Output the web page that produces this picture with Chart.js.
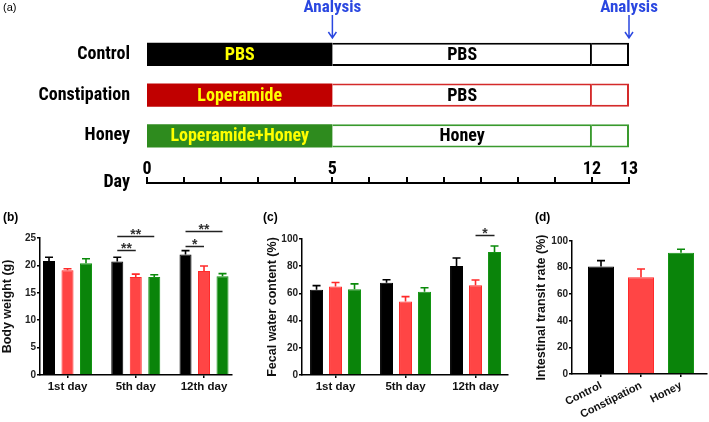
<!DOCTYPE html>
<html><head><meta charset="utf-8">
<script src="https://cdn.jsdelivr.net/npm/chart.js@4.4.1/dist/chart.umd.min.js"></script>
<style>
html,body{margin:0;padding:0;background:#fff;}
#wrap{position:relative;width:709px;height:422px;overflow:hidden;background:#fff;}
canvas{position:absolute;}
.lbl{position:absolute;font-family:'Liberation Sans',Arial,sans-serif;color:#000;white-space:nowrap;}
.narrow{font-family:'Liberation Sans Narrow','Arial Narrow','Roboto Condensed','Liberation Sans',sans-serif;font-weight:bold;}
</style></head><body>
<div id="wrap">
<canvas id="ca" width="709" height="184" style="left:0;top:0;width:709px;height:184px"></canvas>
<canvas id="cday" width="709" height="45" style="left:0;top:150px;width:709px;height:45px"></canvas>
<canvas id="cb" width="235" height="222" style="left:0;top:200px;width:235px;height:222px"></canvas>
<canvas id="cc" width="250" height="222" style="left:262px;top:200px;width:250px;height:222px"></canvas>
<canvas id="cd" width="177" height="222" style="left:532px;top:200px;width:177px;height:222px"></canvas>
<div class="lbl" style="left:3px;top:1px;font-size:11px;">(a)</div>
<div class="lbl narrow" style="left:30px;top:170px;width:100px;text-align:right;font-size:18px;line-height:22px;">Day</div>
<div class="lbl" style="left:3px;top:210px;font-size:12px;font-weight:bold;">(b)</div>
<div class="lbl" style="left:263px;top:210px;font-size:12px;font-weight:bold;">(c)</div>
<div class="lbl" style="left:535px;top:210px;font-size:12px;font-weight:bold;">(d)</div>
</div>
<script>
// ---------- DATA ----------
const groups = ['Control', 'Constipation', 'Honey'];
const phaseDays = [0, 5, 12, 13];
const phaseLabelsEarly = ['PBS', 'Loperamide', 'Loperamide+Honey'];
const phaseLabelsLate = ['PBS', 'PBS', 'Honey'];
const analysisDays = [5, 13];
const dayTickLabels = [0, 5, 12, 13];

const timeLabels = ['1st day', '5th day', '12th day'];
const bodyWeightControl = [20.8, 20.7, 22.0];
const bodyWeightConstipation = [19.1, 17.9, 19.0];
const bodyWeightHoney = [20.4, 17.9, 18.0];
const bodyWeightErrControl = [0.7, 0.8, 0.7];
const bodyWeightErrConstipation = [0.3, 0.5, 0.9];
const bodyWeightErrHoney = [0.8, 0.4, 0.5];
const bodyWeightSig = [
  {group: 1, from: 0, to: 1, level: 22.8, mark: '**'},
  {group: 1, from: 0, to: 2, level: 25.4, mark: '**'},
  {group: 2, from: 0, to: 1, level: 23.5, mark: '*'},
  {group: 2, from: 0, to: 2, level: 26.3, mark: '**'}
];

const fecalControl = [62.7, 67.9, 80.1];
const fecalConstipation = [65.0, 54.0, 66.0];
const fecalHoney = [63.0, 61.3, 90.4];
const fecalErrControl = [3.0, 2.1, 5.9];
const fecalErrConstipation = [3.0, 3.6, 3.9];
const fecalErrHoney = [4.0, 2.9, 4.4];
const fecalSig = [{group: 2, from: 1, to: 2, level: 103, mark: '*'}];

const transitLabels = ['Control', 'Constipation', 'Honey'];
const transitValues = [80.75, 72.75, 91.25];
const transitErr = [4.5, 6.25, 2.5];

// ---------- STYLE ----------
const NARROW = "'Liberation Sans Narrow','Arial Narrow','Roboto Condensed','Liberation Sans',sans-serif";
const SANS = "'Liberation Sans',Arial,sans-serif";
Chart.defaults.font.family = SANS;
Chart.defaults.animation = false;
const rowFill = ['#000000', '#c00000', '#2e8b1e'];
const rowBorder = ['#000000', '#d42a2a', '#3a9a2e'];
const barFill = ['#000000', '#ff4545', '#0a840a'];
const barBorder = ['#000000', '#ff2a2a', '#149414'];
const errColor = ['#000000', '#ff2a2a', '#0a8a0a'];

// ---------- PANEL (a) ----------
const segTextPlugin = {
  id: 'segText',
  afterDatasetsDraw(chart) {
    const ctx = chart.ctx;
    const texts = [phaseLabelsEarly, phaseLabelsLate, groups.map(() => '')];
    const colors = ['#ffff00', '#000000', '#000000'];
    ctx.save();
    ctx.font = 'bold 18px ' + NARROW;
    ctx.textAlign = 'center';
    ctx.textBaseline = 'middle';
    chart.data.datasets.forEach((ds, di) => {
      chart.getDatasetMeta(di).data.forEach((el, i) => {
        ctx.fillStyle = colors[di];
        ctx.fillText(texts[di][i], (el.x + el.base) / 2, el.y + 1);
      });
    });
    ctx.restore();
  },
  afterDraw(chart) {
    const ctx = chart.ctx, xs = chart.scales.x;
    ctx.save();
    ctx.strokeStyle = '#2a47e0';
    ctx.fillStyle = '#2a47e0';
    ctx.lineWidth = 1.5;
    ctx.font = 'bold 17px ' + NARROW;
    ctx.textAlign = 'center';
    ctx.textBaseline = 'middle';
    analysisDays.forEach(d => {
      const x = xs.getPixelForValue(d);
      ctx.fillText('Analysis', x, 8);
      ctx.beginPath();
      ctx.moveTo(x, 15); ctx.lineTo(x, 38);
      ctx.moveTo(x - 4, 32); ctx.lineTo(x, 38); ctx.lineTo(x + 4, 32);
      ctx.stroke();
    });
    ctx.restore();
  }
};

new Chart(document.getElementById('ca'), {
  type: 'bar',
  data: {
    labels: groups,
    datasets: [
      {data: groups.map(() => [phaseDays[0], phaseDays[1]]), backgroundColor: rowFill, borderWidth: 0},
      {data: groups.map(() => [phaseDays[1], phaseDays[2]]), backgroundColor: '#ffffff', borderColor: rowBorder, borderWidth: 2, borderSkipped: 'left'},
      {data: groups.map(() => [phaseDays[2], phaseDays[3]]), backgroundColor: '#ffffff', borderColor: rowBorder, borderWidth: 2, borderSkipped: 'left'}
    ]
  },
  options: {
    responsive: false, devicePixelRatio: 1, indexAxis: 'y',
    layout: {padding: {top: 34, bottom: 4, left: 0, right: 80}},
    datasets: {bar: {grouped: false, categoryPercentage: 1, barPercentage: 0.57}},
    plugins: {legend: {display: false}, tooltip: {enabled: false}},
    scales: {
      x: {type: 'linear', min: phaseDays[0], max: phaseDays[3], display: false},
      y: {
        type: 'category', offset: true,
        grid: {display: false, drawTicks: false}, border: {display: false},
        ticks: {font: {family: NARROW, size: 18, weight: 'bold'}, color: '#000', padding: 17},
        afterFit: s => { s.width = 147; }
      }
    }
  },
  plugins: [segTextPlugin]
});

new Chart(document.getElementById('cday'), {
  type: 'line',
  data: {datasets: []},
  options: {
    responsive: false, devicePixelRatio: 1,
    layout: {padding: {top: 0, bottom: 0, left: 147, right: 80}},
    plugins: {legend: {display: false}, tooltip: {enabled: false}},
    scales: {
      x: {
        type: 'linear', position: 'top', min: phaseDays[0], max: phaseDays[3],
        grid: {drawOnChartArea: false, drawTicks: true, tickLength: 6, lineWidth: 2, color: '#000'},
        border: {display: true, width: 2, color: '#000'},
        ticks: {stepSize: 1, autoSkip: false, maxRotation: 0, padding: -3, color: '#000',
          font: {family: NARROW, size: 18, weight: 'bold'},
          callback: v => dayTickLabels.includes(v) ? String(v) : ''},
        afterFit: s => { s.height = 33; }
      },
      y: {display: false, min: 0, max: 1}
    }
  }
});

// ---------- PANELS (b)(c)(d) ----------
function errorPlugin(cap) {
  return {
    id: 'errBars',
    afterDatasetsDraw(chart) {
      const ctx = chart.ctx, ys = chart.scales.y;
      chart.data.datasets.forEach((ds, di) => {
        chart.getDatasetMeta(di).data.forEach((bar, i) => {
          const v = ds.data[i].y;
          const e = ds.errors[i];
          const base = ys.getPixelForValue(v), top = ys.getPixelForValue(v + e);
          ctx.save();
          ctx.strokeStyle = Array.isArray(ds.errColor) ? ds.errColor[i] : ds.errColor;
          ctx.lineWidth = 1.6;
          ctx.beginPath();
          ctx.moveTo(bar.x, base); ctx.lineTo(bar.x, top);
          ctx.moveTo(bar.x - cap / 2, top); ctx.lineTo(bar.x + cap / 2, top);
          ctx.stroke();
          ctx.restore();
        });
      });
    }
  };
}
function sigPlugin(items) {
  return {
    id: 'sigMarks',
    afterDatasetsDraw(chart) {
      const ctx = chart.ctx, ys = chart.scales.y;
      items.forEach(it => {
        const xa = chart.getDatasetMeta(it.from).data[it.group].x;
        const xb = chart.getDatasetMeta(it.to).data[it.group].x;
        const y = Math.round(ys.getPixelForValue(it.level)) + 0.5;
        ctx.save();
        ctx.strokeStyle = '#222'; ctx.lineWidth = 1.5;
        ctx.beginPath(); ctx.moveTo(xa, y); ctx.lineTo(xb, y); ctx.stroke();
        ctx.fillStyle = '#333';
        ctx.font = 'bold 14px ' + SANS;
        ctx.textAlign = 'center'; ctx.textBaseline = 'alphabetic';
        ctx.fillText(it.mark, (xa + xb) / 2, y + 2.5);
        ctx.restore();
      });
    }
  };
}
function groupedDataset(vals, errs, k) {
  return {
    data: vals.map((v, i) => ({x: i, y: v})),
    errors: errs, errColor: errColor[k],
    backgroundColor: barFill[k], borderColor: barBorder[k], borderWidth: 1
  };
}
function panelOptions(cfg) {
  return {
    responsive: false, devicePixelRatio: 1,
    layout: {padding: {top: cfg.padTop, bottom: 0, left: 0, right: cfg.padRight}},
    datasets: {bar: {categoryPercentage: cfg.cp, barPercentage: cfg.bp}},
    plugins: {legend: {display: false}, tooltip: {enabled: false}},
    scales: {
      x: {
        type: 'linear', min: cfg.xmin, max: cfg.xmax, offset: false,
        afterBuildTicks: s => { s.ticks = cfg.labels.map((_, i) => ({value: i})); },
        grid: {display: true, offset: false, drawOnChartArea: false, drawTicks: true, tickLength: 3, color: '#000', lineWidth: 1.5},
        border: {display: true, color: '#000', width: 1.5},
        ticks: {autoSkip: false, minRotation: cfg.rot, maxRotation: cfg.rot, padding: cfg.xpad, color: '#111',
          font: {size: cfg.xfont, weight: 'bold'}, callback: v => cfg.labels[v]},
        afterFit: s => { s.height = cfg.xh; }
      },
      y: {
        min: 0, max: cfg.ymax,
        grid: {display: true, drawOnChartArea: false, drawTicks: true, tickLength: 3, color: '#000', lineWidth: 1.5},
        border: {display: true, color: '#000', width: 1.5},
        ticks: {stepSize: cfg.step, padding: 1, color: '#222', font: {size: 10, weight: 'bold'}},
        title: {display: true, text: cfg.title, color: '#111', padding: {top: cfg.titlePad, bottom: 0},
          font: {size: 12.5, weight: 'bold'}},
        afterFit: s => { s.width = 40; }
      }
    }
  };
}

new Chart(document.getElementById('cb'), {
  type: 'bar',
  data: {datasets: [
    groupedDataset(bodyWeightControl, bodyWeightErrControl, 0),
    groupedDataset(bodyWeightConstipation, bodyWeightErrConstipation, 1),
    groupedDataset(bodyWeightHoney, bodyWeightErrHoney, 2)
  ]},
  options: panelOptions({padTop: 38, padRight: 3, cp: 0.813, bp: 0.65, xmin: -0.403, xmax: 2.41,
    labels: timeLabels, rot: 0, xpad: 2, xfont: 11.5, xh: 47, ymax: 25, step: 5,
    title: 'Body weight (g)', titlePad: 0.5}),
  plugins: [errorPlugin(8), sigPlugin(bodyWeightSig)]
});

new Chart(document.getElementById('cc'), {
  type: 'bar',
  data: {datasets: [
    groupedDataset(fecalControl, fecalErrControl, 0),
    groupedDataset(fecalConstipation, fecalErrConstipation, 1),
    groupedDataset(fecalHoney, fecalErrHoney, 2)
  ]},
  options: panelOptions({padTop: 39, padRight: 4, cp: 0.814, bp: 0.684, xmin: -0.479, xmax: 2.464,
    labels: timeLabels, rot: 0, xpad: 2, xfont: 11.5, xh: 47, ymax: 100, step: 20,
    title: 'Fecal water content (%)', titlePad: 3}),
  plugins: [errorPlugin(8), sigPlugin(fecalSig)]
});

new Chart(document.getElementById('cd'), {
  type: 'bar',
  data: {datasets: [{
    data: transitValues.map((v, i) => ({x: i, y: v})),
    errors: transitErr, errColor: errColor,
    backgroundColor: barFill, borderColor: barBorder, borderWidth: 1
  }]},
  options: panelOptions({padTop: 41, padRight: 2, cp: 0.65, bp: 1, xmin: -0.725, xmax: 2.65,
    labels: transitLabels, rot: 27, xpad: 2, xfont: 11, xh: 48, ymax: 100, step: 20,
    title: 'Intestinal transit rate (%)', titlePad: 2.5}),
  plugins: [errorPlugin(8)]
});
</script>
</body></html>
